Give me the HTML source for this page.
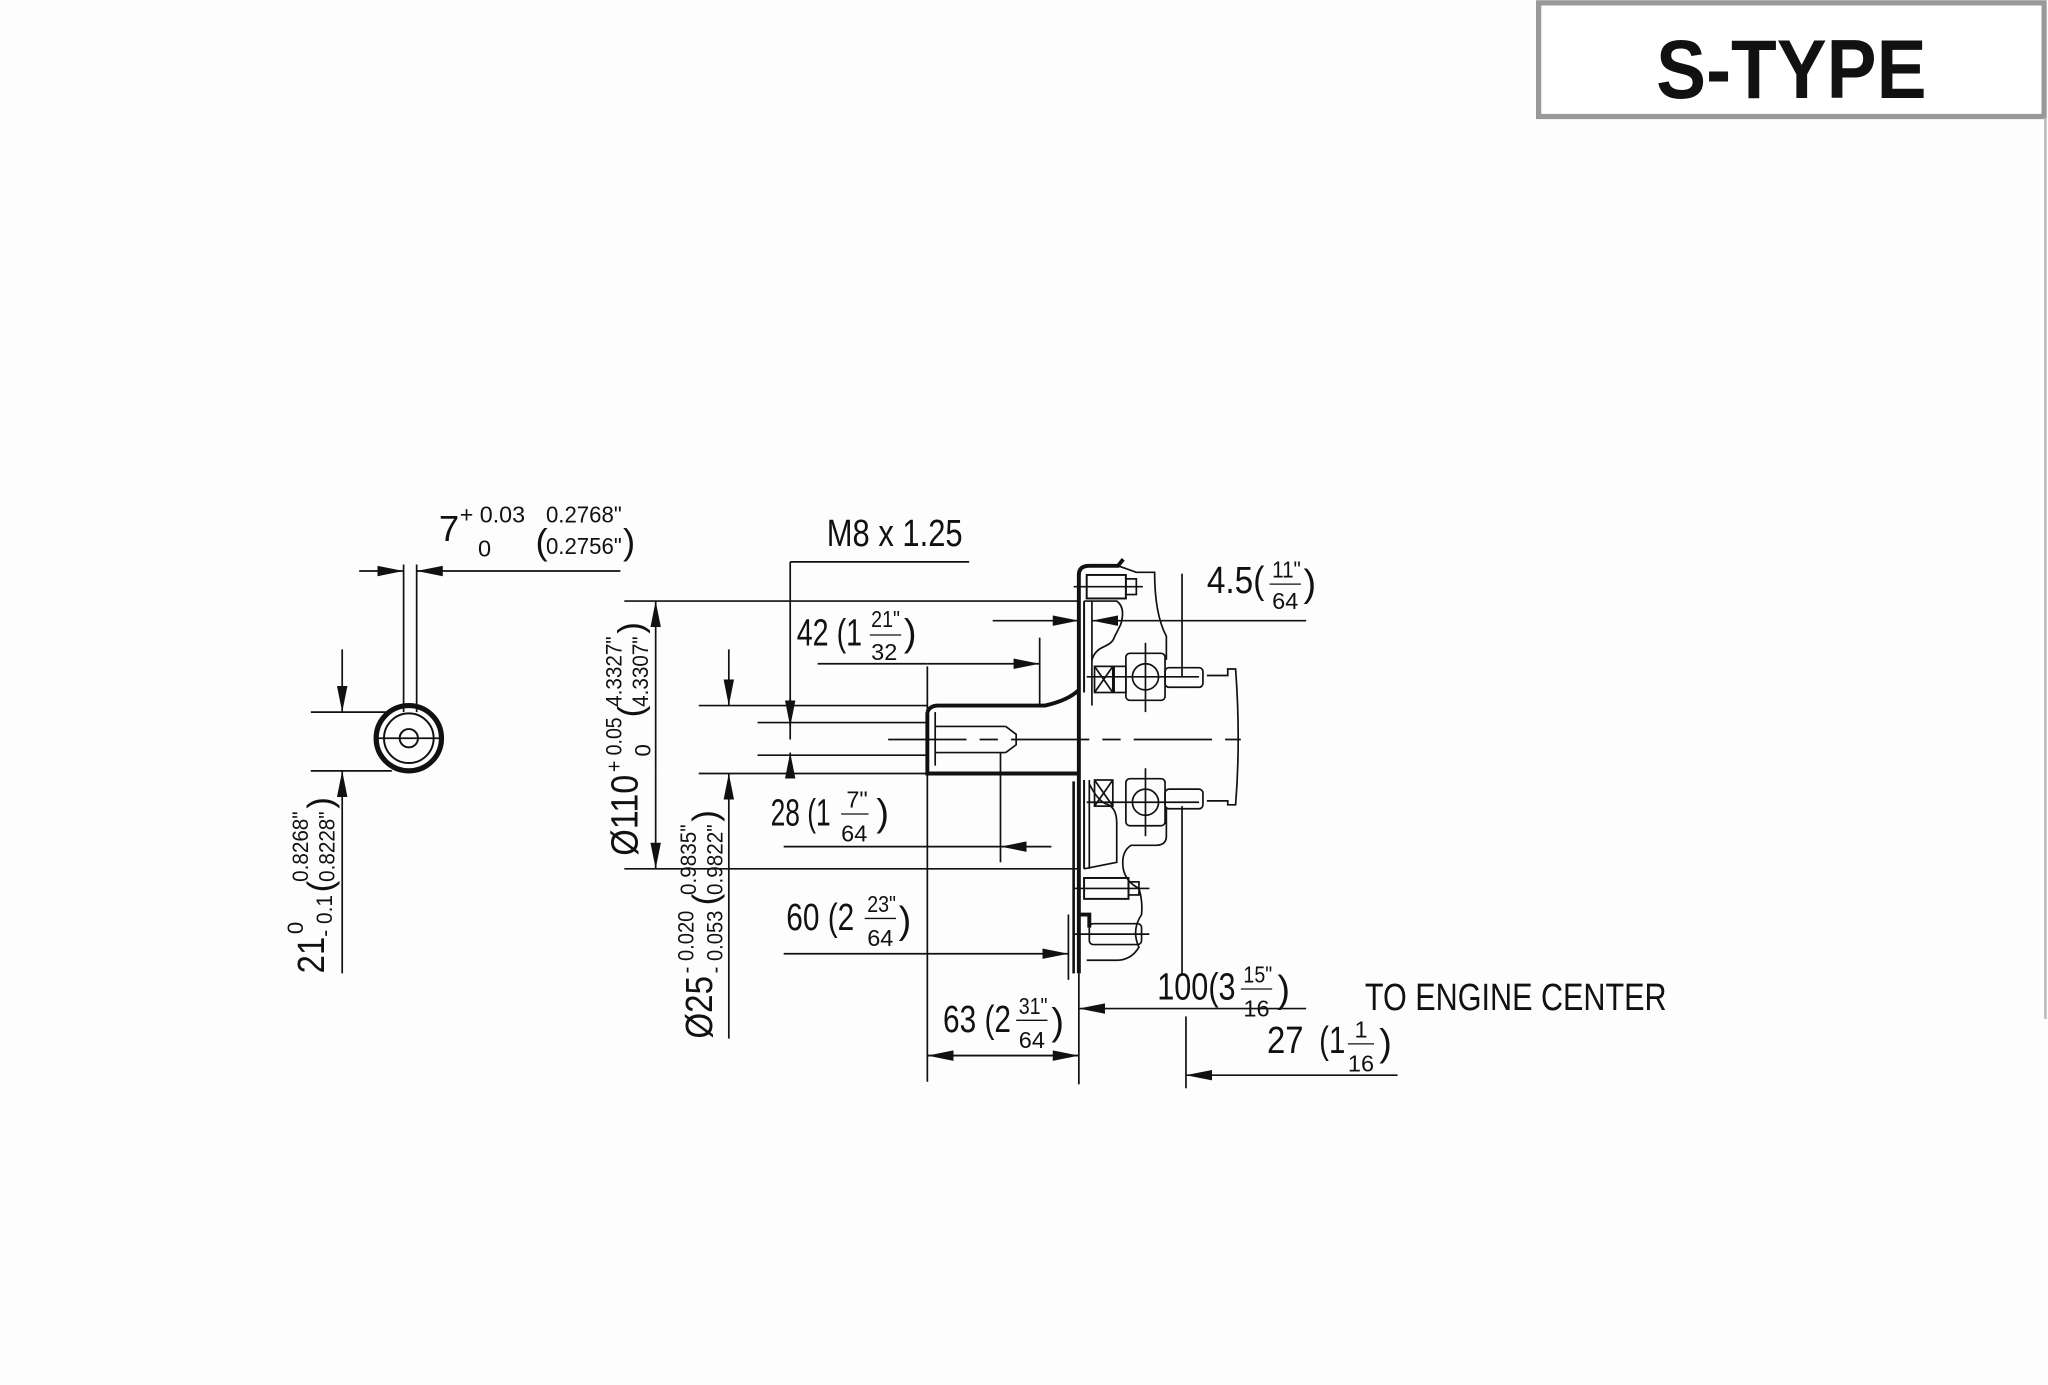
<!DOCTYPE html>
<html><head><style>
html,body{margin:0;padding:0;background:#fdfdfd;}
svg{display:block}
text{font-family:"Liberation Sans",sans-serif;fill:#111}
</style></head><body>
<svg width="2048" height="1385" viewBox="0 0 1568 1060" xmlns="http://www.w3.org/2000/svg">
<defs>
<marker id="a" markerWidth="20" markerHeight="8" refX="20" refY="4" orient="auto" markerUnits="userSpaceOnUse"><path d="M0,0 L20,4 L0,8z" fill="#111"/></marker>
</defs>
<rect x="0" y="0" width="1568" height="1060" fill="#fdfdfd"/>
<rect x="1178" y="2" width="387" height="87" fill="#fff" stroke="#999" stroke-width="4"/>
<text x="1268" y="75" textLength="207" lengthAdjust="spacingAndGlyphs" style="font-size:64px;font-weight:bold">S-TYPE</text>
<line x1="1566" y1="90" x2="1566" y2="780" stroke="#bbb" stroke-width="2"/>

<g stroke="#111" fill="none" stroke-width="1.3">
<circle cx="313" cy="565" r="25" stroke-width="4"/>
<circle cx="313" cy="565" r="19" stroke-width="1.5"/>
<circle cx="313" cy="565" r="7" stroke-width="1.5"/>
<line x1="309" y1="432" x2="309" y2="545"/>
<line x1="319" y1="432" x2="319" y2="545"/>
<line x1="275" y1="437" x2="309" y2="437" marker-end="url(#a)"/>
<line x1="475" y1="437" x2="319" y2="437" marker-end="url(#a)"/>
<line x1="238" y1="545" x2="300" y2="545"/>
<line x1="238" y1="590" x2="300" y2="590"/>
<line x1="262" y1="497" x2="262" y2="545" marker-end="url(#a)"/>
<line x1="262" y1="745" x2="262" y2="590" marker-end="url(#a)"/>
<line x1="288" y1="565" x2="338" y2="565"/>

<path d="M710,545 L710,592 L826,592" stroke-width="3"/>
<path d="M710,545 Q712,540 718,540 L800,540 Q818,536 826,528" stroke-width="3"/>
<line x1="716" y1="556" x2="770" y2="556"/>
<line x1="716" y1="576" x2="770" y2="576"/>
<path d="M770,556 L778,562 L778,570 L770,576"/>
<line x1="716" y1="545" x2="716" y2="586"/>
<line x1="680" y1="566" x2="950" y2="566" stroke-dasharray="60,10,14,10"/>
<path d="M826,745 L826,440 Q826,433 834,433 L856,433 L860,428" stroke-width="3"/>
<line x1="830" y1="460" x2="830" y2="530" stroke-width="1.5"/>
<line x1="836" y1="460" x2="836" y2="540"/>
<path d="M830,460 L855,460 Q862,465 858,478 L853,488 Q852,492 845,495 Q838,498 836,505"/>
<path d="M856,433 L870,438 L884,438 Q884,470 893,487 L893,505"/>
<line x1="905" y1="439" x2="905" y2="518"/>
<path d="M924,517 L940,517 L940,512 L946,512 Q950,566 946,616 L940,616 L940,613 L924,613"/>
<rect x="862" y="500" width="30" height="36" rx="3"/>
<circle cx="877" cy="518" r="10"/>
<line x1="877" y1="492" x2="877" y2="545"/>
<line x1="832" y1="518" x2="918" y2="518"/>
<rect x="892" y="511" width="29" height="15" rx="3"/>
<rect x="838" y="510" width="14" height="20"/><path d="M838,510 L852,530 M852,510 L838,530"/>
<rect x="853" y="510" width="9" height="20"/>
<rect x="862" y="596" width="30" height="36" rx="3"/>
<circle cx="877" cy="614" r="10"/>
<line x1="877" y1="588" x2="877" y2="640"/>
<line x1="832" y1="614" x2="918" y2="614"/>
<rect x="892" y="604" width="29" height="15" rx="3"/>
<rect x="838" y="597" width="14" height="20"/><path d="M838,597 L852,617 M852,597 L838,617"/>
<line x1="830" y1="597" x2="830" y2="665" stroke-width="1.5"/>
<line x1="834" y1="597" x2="834" y2="665"/>
<path d="M834,600 Q840,612 846,615 Q855,617 855,630 L855,660 L830,665"/>
<path d="M893,618 L893,640 Q893,647 885,647 L866,647 Q858,652 860,665 Q862,675 872,680 Q875,690 874,700 Q866,712 872,725 Q866,735 855,735 L832,735"/>
<line x1="905" y1="617" x2="905" y2="745"/>
<path d="M826,700 L834,700 L834,710" stroke-width="3"/>
<rect x="830" y="672" width="34" height="16" stroke-width="1.5"/><rect x="864" y="675" width="8" height="10"/>
<line x1="822" y1="680" x2="880" y2="680"/>
<rect x="834" y="707" width="40" height="16" rx="3"/>
<line x1="822" y1="715" x2="880" y2="715"/>
<rect x="832" y="440" width="30" height="18" stroke-width="1.5"/><rect x="862" y="443" width="8" height="12"/>
<line x1="822" y1="449" x2="875" y2="449"/>
<line x1="822" y1="598" x2="822" y2="745" stroke-width="2"/>

<line x1="605" y1="430" x2="742" y2="430"/>
<line x1="605" y1="430" x2="605" y2="566"/>
<line x1="605" y1="535" x2="605" y2="556" marker-end="url(#a)"/>
<line x1="605" y1="595" x2="605" y2="576" marker-end="url(#a)"/>
<line x1="478" y1="460" x2="826" y2="460"/>
<line x1="478" y1="665" x2="826" y2="665"/>
<line x1="502" y1="590" x2="502" y2="460" marker-end="url(#a)"/>
<line x1="502" y1="590" x2="502" y2="665" marker-end="url(#a)"/>
<line x1="535" y1="540" x2="710" y2="540"/>
<line x1="535" y1="592" x2="710" y2="592"/>
<line x1="558" y1="497" x2="558" y2="540" marker-end="url(#a)"/>
<line x1="558" y1="795" x2="558" y2="592" marker-end="url(#a)"/>
<line x1="580" y1="553" x2="710" y2="553"/>
<line x1="580" y1="578" x2="710" y2="578"/>
<line x1="626" y1="508" x2="710" y2="508"/>
<line x1="710" y1="508" x2="796" y2="508" marker-end="url(#a)"/>
<line x1="710" y1="510" x2="710" y2="828"/>
<line x1="796" y1="488" x2="796" y2="540"/>
<line x1="760" y1="475" x2="826" y2="475" marker-end="url(#a)"/>
<line x1="1000" y1="475" x2="836" y2="475" marker-end="url(#a)"/>
<line x1="600" y1="648" x2="766" y2="648"/>
<line x1="805" y1="648" x2="766" y2="648" marker-end="url(#a)"/>
<line x1="766" y1="576" x2="766" y2="660"/>
<line x1="600" y1="730" x2="710" y2="730"/>
<line x1="710" y1="730" x2="818" y2="730" marker-end="url(#a)"/>
<line x1="818" y1="700" x2="818" y2="750"/>
<line x1="710" y1="808" x2="826" y2="808" marker-end="url(#a)"/>
<line x1="826" y1="808" x2="710" y2="808" marker-end="url(#a)"/>
<line x1="826" y1="745" x2="826" y2="830"/>
<line x1="1000" y1="772" x2="826" y2="772" marker-end="url(#a)"/>
<line x1="1070" y1="823" x2="908" y2="823" marker-end="url(#a)"/>
<line x1="908" y1="778" x2="908" y2="833"/>
</g>

<g lengthAdjust="spacingAndGlyphs">
<text x="336" y="414" style="font-size:28px">7</text>
<text x="352" y="400" style="font-size:18px" textLength="50" lengthAdjust="spacingAndGlyphs">+ 0.03</text>
<text x="366" y="426" style="font-size:18px">0</text>
<text x="410" y="424" style="font-size:28px">(</text>
<text x="418" y="400" style="font-size:18px" textLength="58" lengthAdjust="spacingAndGlyphs">0.2768"</text>
<text x="418" y="424" style="font-size:18px" textLength="58" lengthAdjust="spacingAndGlyphs">0.2756"</text>
<text x="477" y="424" style="font-size:28px">)</text>

<text x="633" y="418" style="font-size:29px" textLength="104" lengthAdjust="spacingAndGlyphs">M8 x 1.25</text>
<text x="610" y="494" style="font-size:29px" textLength="50" lengthAdjust="spacingAndGlyphs">42 (1</text>
<text x="667" y="480" style="font-size:18px" textLength="22" lengthAdjust="spacingAndGlyphs">21"</text>
<line x1="666" y1="486" x2="690" y2="486" stroke="#111"/>
<text x="667" y="505" style="font-size:18px" textLength="20" lengthAdjust="spacingAndGlyphs">32</text>
<text x="692" y="494" style="font-size:29px">)</text>

<text x="924" y="454" style="font-size:29px" textLength="44" lengthAdjust="spacingAndGlyphs">4.5(</text>
<text x="974" y="442" style="font-size:18px" textLength="22" lengthAdjust="spacingAndGlyphs">11"</text>
<line x1="972" y1="447" x2="996" y2="447" stroke="#111"/>
<text x="974" y="466" style="font-size:18px" textLength="20" lengthAdjust="spacingAndGlyphs">64</text>
<text x="998" y="456" style="font-size:29px">)</text>

<text x="590" y="632" style="font-size:29px" textLength="46" lengthAdjust="spacingAndGlyphs">28 (1</text>
<text x="648" y="618" style="font-size:18px">7"</text>
<line x1="644" y1="623" x2="665" y2="623" stroke="#111"/>
<text x="644" y="644" style="font-size:18px" textLength="20" lengthAdjust="spacingAndGlyphs">64</text>
<text x="671" y="632" style="font-size:29px">)</text>

<text x="602" y="712" style="font-size:29px" textLength="52" lengthAdjust="spacingAndGlyphs">60 (2</text>
<text x="664" y="698" style="font-size:18px" textLength="22" lengthAdjust="spacingAndGlyphs">23"</text>
<line x1="662" y1="703" x2="686" y2="703" stroke="#111"/>
<text x="664" y="724" style="font-size:18px" textLength="20" lengthAdjust="spacingAndGlyphs">64</text>
<text x="688" y="714" style="font-size:29px">)</text>

<text x="722" y="790" style="font-size:29px" textLength="52" lengthAdjust="spacingAndGlyphs">63 (2</text>
<text x="780" y="776" style="font-size:18px" textLength="22" lengthAdjust="spacingAndGlyphs">31"</text>
<line x1="778" y1="781" x2="802" y2="781" stroke="#111"/>
<text x="780" y="802" style="font-size:18px" textLength="20" lengthAdjust="spacingAndGlyphs">64</text>
<text x="805" y="792" style="font-size:29px">)</text>

<text x="886" y="765" style="font-size:29px" textLength="60" lengthAdjust="spacingAndGlyphs">100(3</text>
<text x="952" y="752" style="font-size:18px" textLength="22" lengthAdjust="spacingAndGlyphs">15"</text>
<line x1="950" y1="757" x2="974" y2="757" stroke="#111"/>
<text x="952" y="778" style="font-size:18px" textLength="20" lengthAdjust="spacingAndGlyphs">16</text>
<text x="978" y="767" style="font-size:29px">)</text>

<text x="1045" y="773" style="font-size:29px" textLength="231" lengthAdjust="spacingAndGlyphs">TO ENGINE CENTER</text>
<text x="970" y="806" style="font-size:29px" textLength="28" lengthAdjust="spacingAndGlyphs">27</text>
<text x="1010" y="806" style="font-size:29px" textLength="20" lengthAdjust="spacingAndGlyphs">(1</text>
<text x="1037" y="794" style="font-size:18px">1</text>
<line x1="1032" y1="799" x2="1052" y2="799" stroke="#111"/>
<text x="1032" y="820" style="font-size:18px" textLength="20" lengthAdjust="spacingAndGlyphs">16</text>
<text x="1056" y="808" style="font-size:29px">)</text>

<g transform="translate(248,745) rotate(-90)">
<text x="0" y="0" style="font-size:29px" textLength="28" lengthAdjust="spacingAndGlyphs">21</text>
<text x="30" y="-16" style="font-size:17px">0</text>
<text x="28" y="6" style="font-size:17px" textLength="32" lengthAdjust="spacingAndGlyphs">- 0.1</text>
<text x="62" y="6" style="font-size:27px">(</text>
<text x="70" y="-12" style="font-size:17px" textLength="54" lengthAdjust="spacingAndGlyphs">0.8268"</text>
<text x="70" y="8" style="font-size:17px" textLength="54" lengthAdjust="spacingAndGlyphs">0.8228"</text>
<text x="126" y="6" style="font-size:27px">)</text>
</g>
<g transform="translate(488,655) rotate(-90)">
<text x="0" y="0" style="font-size:29px" textLength="62" lengthAdjust="spacingAndGlyphs">Ø110</text>
<text x="64" y="-12" style="font-size:17px" textLength="42" lengthAdjust="spacingAndGlyphs">+ 0.05</text>
<text x="76" y="10" style="font-size:17px">0</text>
<text x="106" y="4" style="font-size:27px">(</text>
<text x="114" y="-12" style="font-size:17px" textLength="54" lengthAdjust="spacingAndGlyphs">4.3327"</text>
<text x="114" y="8" style="font-size:17px" textLength="54" lengthAdjust="spacingAndGlyphs">4.3307"</text>
<text x="170" y="4" style="font-size:27px">)</text>
</g>
<g transform="translate(545,795) rotate(-90)">
<text x="0" y="0" style="font-size:29px" textLength="48" lengthAdjust="spacingAndGlyphs">Ø25</text>
<text x="50" y="-14" style="font-size:17px" textLength="48" lengthAdjust="spacingAndGlyphs">- 0.020</text>
<text x="50" y="8" style="font-size:17px" textLength="48" lengthAdjust="spacingAndGlyphs">- 0.053</text>
<text x="102" y="4" style="font-size:27px">(</text>
<text x="110" y="-12" style="font-size:17px" textLength="54" lengthAdjust="spacingAndGlyphs">0.9835"</text>
<text x="110" y="8" style="font-size:17px" textLength="54" lengthAdjust="spacingAndGlyphs">0.9822"</text>
<text x="166" y="4" style="font-size:27px">)</text>
</g>
</g>
</svg>
</body></html>
